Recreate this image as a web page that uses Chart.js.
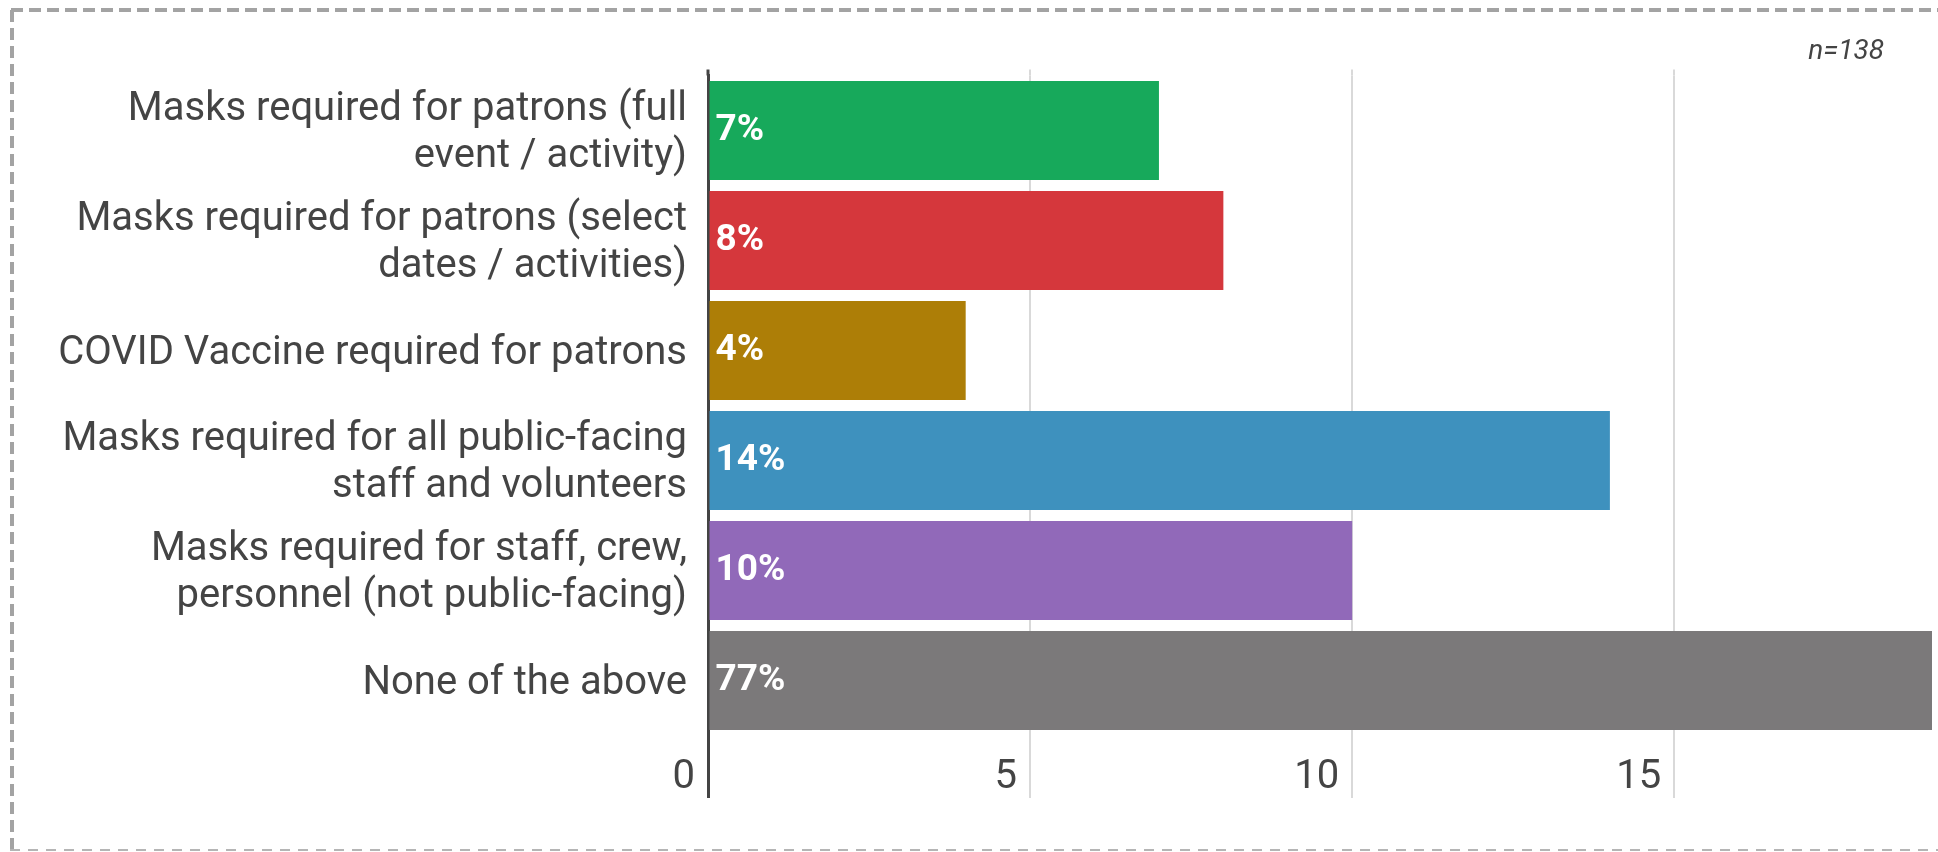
<!DOCTYPE html>
<html>
<head>
<meta charset="utf-8">
<title>Safety requirements</title>
<script src="https://cdn.jsdelivr.net/npm/chart.js@4/dist/chart.umd.min.js"></script>
<style>
  html, body { margin: 0; padding: 0; background: #ffffff; }
  #wrap { width: 1938px; height: 852px; position: relative; }
  canvas { display: block; }
</style>
</head>
<body>
<div id="wrap"><canvas id="chart" width="1938" height="852"></canvas></div>
<script>
// Survey answers (share of respondents, %)
const categories = [
  ['Masks required for patrons (full', 'event / activity)'],
  ['Masks required for patrons (select', 'dates / activities)'],
  'COVID Vaccine required for patrons',
  ['Masks required for all public-facing', 'staff and volunteers'],
  ['Masks required for staff, crew,', 'personnel (not public-facing)'],
  'None of the above'
];
const shares = [7, 8, 4, 14, 10, 77];
const barColors = ['#17a95b', '#d5373c', '#ad7e07', '#3e91be', '#9169b9', '#7b797a'];
const axisMin = 0;
const axisMax = 19;
const axisStep = 5;
const sampleNote = 'n=138';

const TEXT = '#444444';
const FONT = 'Roboto';

// Dashed frame around the figure
const framePlugin = {
  id: 'frame',
  beforeDraw(chart) {
    const ctx = chart.ctx;
    ctx.save();
    ctx.fillStyle = '#ffffff';
    ctx.fillRect(0, 0, chart.width, chart.height);
    ctx.strokeStyle = '#a3a3a3';
    ctx.setLineDash([12, 6]);
    ctx.lineWidth = 4;
    ctx.beginPath();
    ctx.moveTo(11, 10);
    ctx.lineTo(chart.width + 10, 10);
    ctx.moveTo(12, 10);
    ctx.lineTo(12, chart.height);
    ctx.stroke();
    ctx.strokeStyle = '#b5b5b5';
    ctx.lineWidth = 2;
    ctx.setLineDash([10, 8]);
    ctx.beginPath();
    ctx.moveTo(10, 850);
    ctx.lineTo(chart.width + 10, 850);
    ctx.stroke();
    ctx.restore();
  }
};

// Short extension of the vertical grid lines above the plot area
const gridCapPlugin = {
  id: 'gridCap',
  beforeDatasetsDraw(chart) {
    const x = chart.scales.x;
    const top = chart.chartArea.top;
    const ctx = chart.ctx;
    ctx.save();
    x.ticks.forEach(t => {
      const px = Math.round(x.getPixelForValue(t.value));
      const zero = t.value === 0;
      ctx.strokeStyle = zero ? TEXT : '#d9d9d9';
      ctx.lineWidth = zero ? 3 : 2;
      ctx.beginPath();
      ctx.moveTo(px, top - 6);
      ctx.lineTo(px, top);
      ctx.stroke();
    });
    ctx.restore();
  }
};

// Value labels at the start of each bar, plus the sample-size note
const valueLabelPlugin = {
  id: 'valueLabels',
  afterDatasetsDraw(chart) {
    const ctx = chart.ctx;
    const meta = chart.getDatasetMeta(0);
    ctx.save();
    ctx.fillStyle = '#ffffff';
    ctx.font = 'bold 37px ' + FONT;
    ctx.textAlign = 'left';
    ctx.textBaseline = 'middle';
    meta.data.forEach((bar, i) => {
      ctx.fillText(shares[i] + '%', bar.base + 6, bar.y);
    });
    ctx.fillStyle = TEXT;
    ctx.font = 'italic 28px ' + FONT;
    ctx.textAlign = 'right';
    ctx.textBaseline = 'alphabetic';
    ctx.fillText(sampleNote, chart.chartArea.right - 48, 59);
    ctx.restore();
  }
};

Chart.defaults.font.family = FONT;
Chart.defaults.color = TEXT;

new Chart(document.getElementById('chart'), {
  type: 'bar',
  data: {
    labels: categories,
    datasets: [{
      data: shares,
      backgroundColor: barColors,
      borderWidth: 0,
      categoryPercentage: 0.9,
      barPercentage: 1.0
    }]
  },
  options: {
    indexAxis: 'y',
    responsive: false,
    animation: false,
    devicePixelRatio: 1,
    layout: { padding: { top: 75.5, right: 6, bottom: 0, left: 0 } },
    plugins: {
      legend: { display: false },
      title: { display: false },
      tooltip: { enabled: false }
    },
    scales: {
      x: {
        type: 'linear',
        min: axisMin,
        max: axisMax,
        afterFit(scale) { scale.height = 116.5; },
        border: { display: false },
        grid: {
          drawTicks: true,
          tickLength: 62.5,
          color: ctx => (ctx.tick && ctx.tick.value === 0) ? TEXT : '#d9d9d9',
          lineWidth: ctx => (ctx.tick && ctx.tick.value === 0) ? 3 : 2
        },
        ticks: {
          stepSize: axisStep,
          includeBounds: false,
          align: 'end',
          labelOffset: -13,
          padding: -44,
          color: TEXT,
          font: { size: 40, family: FONT }
        }
      },
      y: {
        z: 1,
        afterFit(scale) { scale.width = 708; },
        grid: { display: false, drawTicks: false },
        border: { display: true, color: TEXT, width: 3 },
        ticks: {
          padding: 21,
          labelOffset: 3,
          color: TEXT,
          font: { size: 40, family: FONT, lineHeight: 1.17 }
        }
      }
    }
  },
  plugins: [framePlugin, gridCapPlugin, valueLabelPlugin]
});
</script>
</body>
</html>
